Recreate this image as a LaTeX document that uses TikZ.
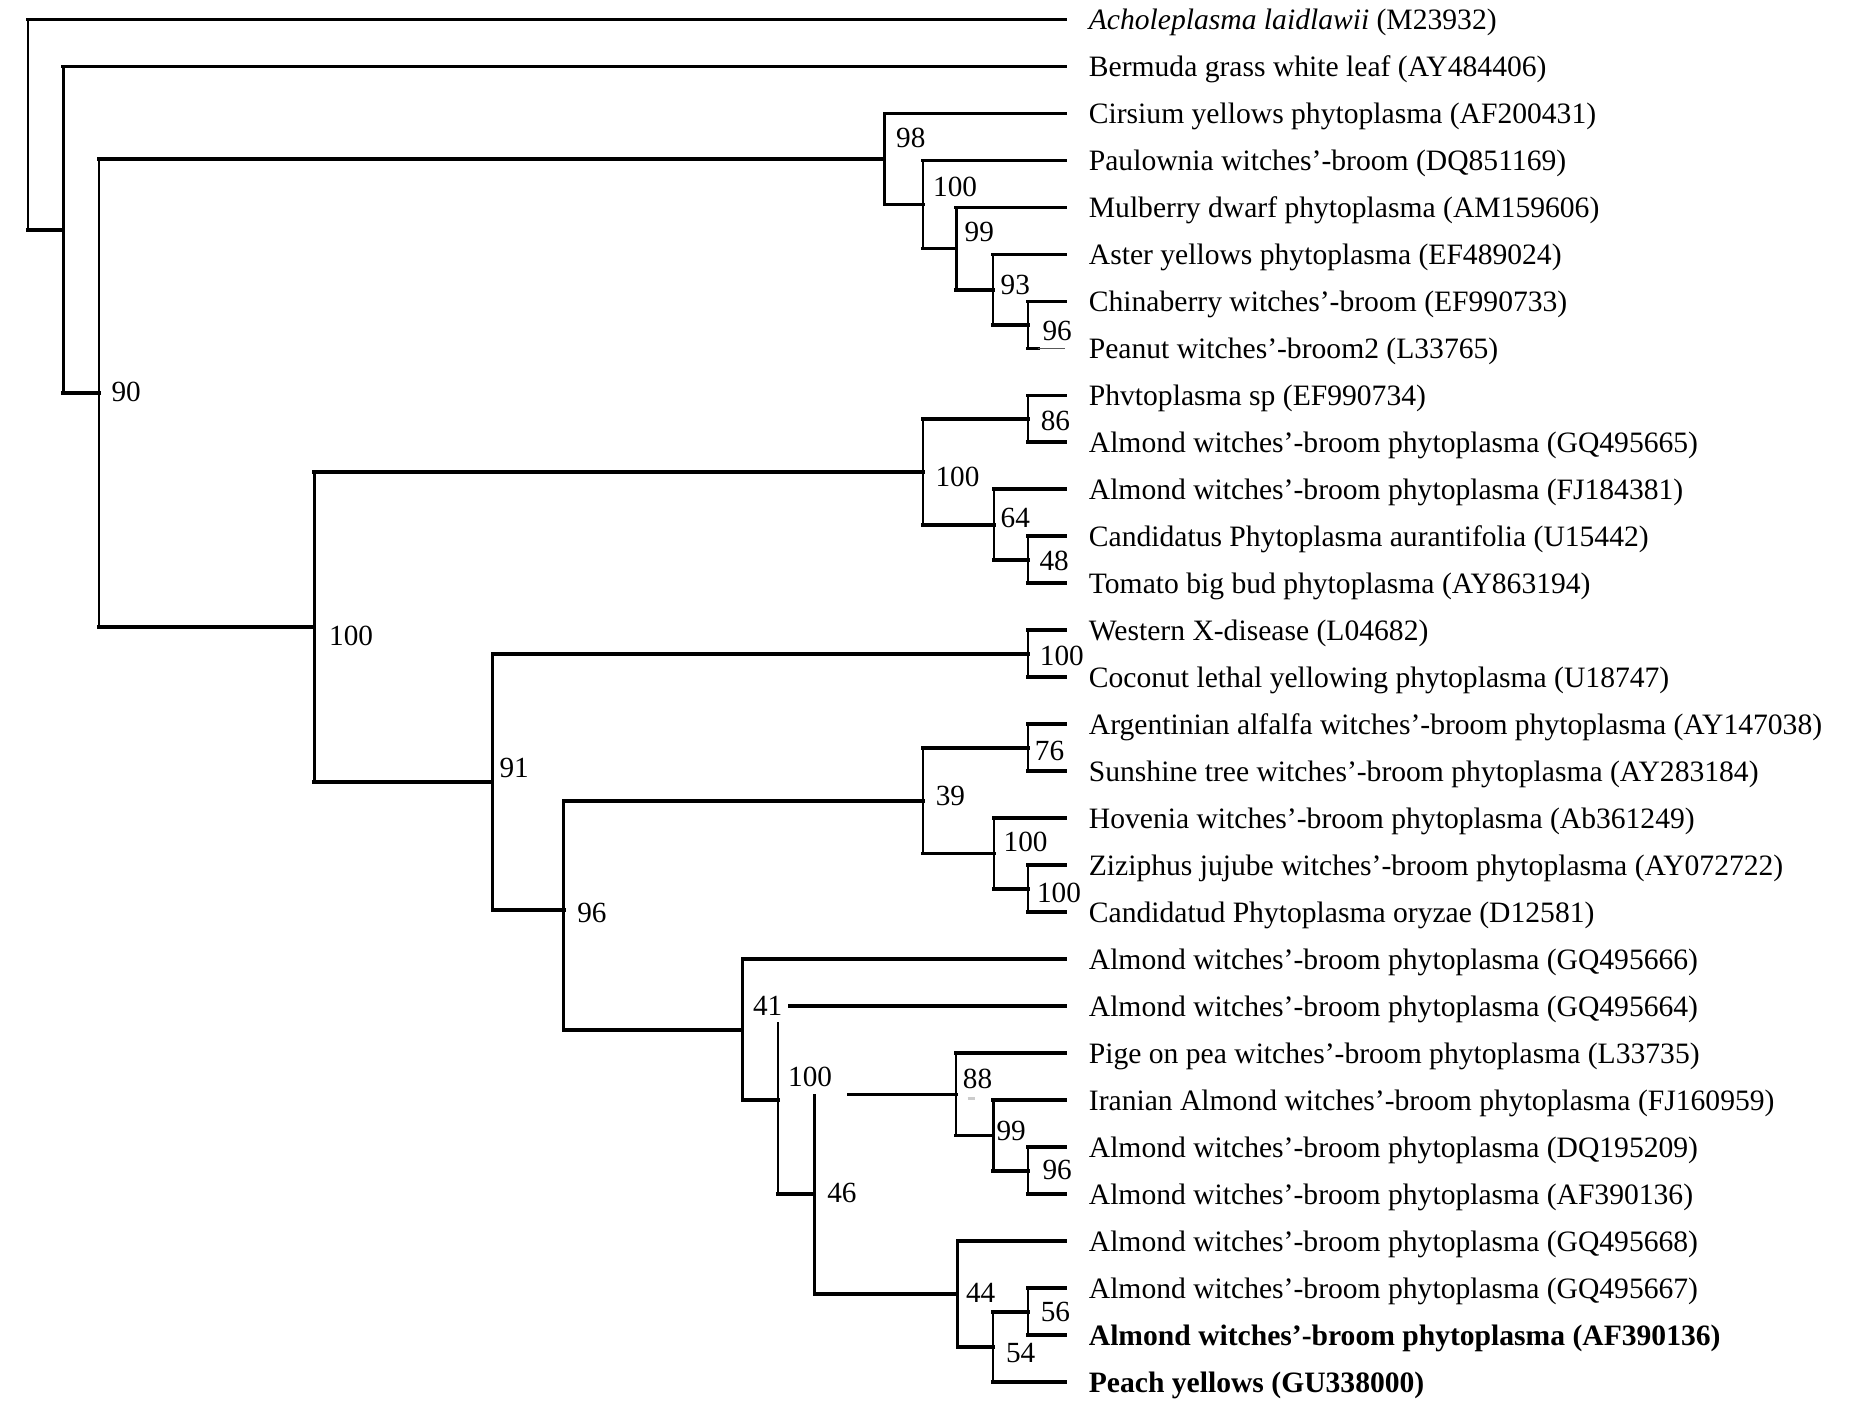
\documentclass[tikz,border=0pt]{standalone}
\usepackage{fontspec}
\setmainfont{Liberation Serif}
\newcommand{\clade}[2]{\draw[vline] (#1) -- (#1 |- #2); \draw[hline] (#1 |- #2) -- (#2);}

\begin{document}
\begin{tikzpicture}[x = 0.5pt, y = -0.5pt,
        hline/.style = {line width = 1.6pt, line cap = rect},
        vline/.style = {line width = 1pt},
        taxon/.style = {anchor = west, inner xsep = 9.75pt, inner ysep = 0pt, text height = 8.3pt, text depth = 0pt, font = \fontsize{12.55}{14}\selectfont},
        boot/.style = {inner sep = 0pt, text height = 8.4pt, text depth = 0pt, font = \fontsize{12.4}{14}\selectfont}]
            \useasboundingbox (0,0) rectangle (1568,1193.4);

            \node[taxon] (l0) at (903.5,16.5) {\textit{Acholeplasma laidlawii} (M23932)};
            \node[taxon] (l1) at (903.5,56.35) {Bermuda grass white leaf (AY484406)};
            \node[taxon] (l2) at (903.5,96.2) {Cirsium yellows phytoplasma (AF200431)};
            \node[taxon] (l3) at (903.5,136.05) {Paulownia witches’-broom (DQ851169)};
            \node[taxon] (l4) at (903.5,175.9) {Mulberry dwarf phytoplasma (AM159606)};
            \node[taxon] (l5) at (903.5,215.75) {Aster yellows phytoplasma (EF489024)};
            \node[taxon] (l6) at (903.5,255.6) {Chinaberry witches’-broom (EF990733)};
            \node[taxon] (l7) at (903.5,295.45) {Peanut witches’-broom2 (L33765)};
            \node[taxon] (l8) at (903.5,335.3) {Phvtoplasma sp (EF990734)};
            \node[taxon] (l9) at (903.5,375.15) {Almond witches’-broom phytoplasma (GQ495665)};
            \node[taxon] (l10) at (903.5,415) {Almond witches’-broom phytoplasma (FJ184381)};
            \node[taxon] (l11) at (903.5,454.85) {Candidatus Phytoplasma aurantifolia (U15442)};
            \node[taxon] (l12) at (903.5,494.7) {Tomato big bud phytoplasma (AY863194)};
            \node[taxon] (l13) at (903.5,534.55) {Western X-disease (L04682)};
            \node[taxon] (l14) at (903.5,574.4) {Coconut lethal yellowing phytoplasma (U18747)};
            \node[taxon] (l15) at (903.5,614.25) {Argentinian alfalfa witches’-broom phytoplasma (AY147038)};
            \node[taxon] (l16) at (903.5,654.1) {Sunshine tree witches’-broom phytoplasma (AY283184)};
            \node[taxon] (l17) at (903.5,693.95) {Hovenia witches’-broom phytoplasma (Ab361249)};
            \node[taxon] (l18) at (903.5,733.8) {Ziziphus jujube witches’-broom phytoplasma (AY072722)};
            \node[taxon] (l19) at (903.5,773.65) {Candidatud Phytoplasma oryzae (D12581)};
            \node[taxon] (l20) at (903.5,813.5) {Almond witches’-broom phytoplasma (GQ495666)};
            \node[taxon] (l21) at (903.5,853.35) {Almond witches’-broom phytoplasma (GQ495664)};
            \node[taxon] (l22) at (903.5,893.2) {Pige on pea witches’-broom phytoplasma (L33735)};
            \node[taxon] (l23) at (903.5,933.05) {Iranian Almond witches’-broom phytoplasma (FJ160959)};
            \node[taxon] (l24) at (903.5,972.9) {Almond witches’-broom phytoplasma (DQ195209)};
            \node[taxon] (l25) at (903.5,1012.75) {Almond witches’-broom phytoplasma (AF390136)};
            \node[taxon] (l26) at (903.5,1052.6) {Almond witches’-broom phytoplasma (GQ495668)};
            \node[taxon] (l27) at (903.5,1092.45) {Almond witches’-broom phytoplasma (GQ495667)};
            \node[taxon] (l28) at (903.5,1132.3) {\textbf{Almond witches’-broom phytoplasma (AF390136)}};
            \node[taxon] (l29) at (903.5,1172.15) {\textbf{Peach yellows (GU338000)}};

            \coordinate (root) at (23.5,105.6);
            \coordinate (A) at (53.7,194.8);
            \coordinate (B) at (83.9,333.2);
            \coordinate (D) at (750,134.8);
            \coordinate (E) at (782.5,173.4);
            \coordinate (F) at (811,210.8);
            \coordinate (G) at (842,245.6);
            \coordinate (H) at (872,275.5);
            \coordinate (C) at (266.6,531.6);
            \coordinate (I) at (782.5,400.05);
            \coordinate (K) at (872,355.2);
            \coordinate (L) at (843,444.9);
            \coordinate (M) at (872,474.8);
            \coordinate (J) at (417.6,663.3);
            \coordinate (N) at (872,554.5);
            \coordinate (O) at (478,772);
            \coordinate (P) at (782.5,679);
            \coordinate (R) at (872,634.2);
            \coordinate (S) at (843,723.8);
            \coordinate (T) at (872,753.7);
            \coordinate (Q) at (629.7,873.3);
            \coordinate (U) at (659.6,933.1);
            \coordinate (V) at (690.8,1012.8);
            \coordinate (W) at (810.5,928.1);
            \coordinate (Y) at (842.4,962.9);
            \coordinate (Z) at (872,992.8);
            \coordinate (X) at (812,1097.4);
            \coordinate (AA) at (842,1142.3);
            \coordinate (BB) at (872,1112.4);
            \coordinate (l7stub) at (880,295.45);
            \coordinate (Ucut) at (659.6,867);
            \coordinate (l21cut) at (669.7,853.35);
            \coordinate (Wcut) at (720,928.1);

            \clade{root}{l0} \clade{root}{A}
            \clade{A}{l1} \clade{A}{B}
            \clade{B}{D} \clade{B}{C}
            \clade{D}{l2} \clade{D}{E}
            \clade{E}{l3} \clade{E}{F}
            \clade{F}{l4} \clade{F}{G}
            \clade{G}{l5} \clade{G}{H}
            \clade{H}{l6}
            \draw[vline] (H) -- (H |- l7);
            \draw[hline] (H |- l7) -- (l7stub);
            \draw[line width = 0.6pt, black!65] (l7stub) -- (l7);
            \clade{C}{I} \clade{C}{J}
            \clade{I}{K} \clade{I}{L}
            \clade{K}{l8} \clade{K}{l9}
            \clade{L}{l10} \clade{L}{M}
            \clade{M}{l11} \clade{M}{l12}
            \clade{J}{N} \clade{J}{O}
            \clade{N}{l13} \clade{N}{l14}
            \clade{O}{P} \clade{O}{Q}
            \clade{P}{R} \clade{P}{S}
            \clade{R}{l15} \clade{R}{l16}
            \clade{S}{l17} \clade{S}{T}
            \clade{T}{l18} \clade{T}{l19}
            \clade{Q}{l20} \clade{Q}{U}
            \draw[vline] (U) -- (Ucut);
            \draw[hline] (l21cut) -- (l21);
            \clade{U}{V}
            \draw[vline] (V) -- (V |- W);
            \draw[hline] (Wcut) -- (W);
            \clade{V}{X}
            \clade{W}{l22} \clade{W}{Y}
            \clade{Y}{l23} \clade{Y}{Z}
            \clade{Z}{l24} \clade{Z}{l25}
            \clade{X}{l26} \clade{X}{AA}
            \clade{AA}{BB} \clade{AA}{l29}
            \clade{BB}{l27} \clade{BB}{l28}
            \draw[gray!40, line width = 1pt] (820.5,931.5) -- (826.5,931.5);

            \node[boot] (sB) at (107,332) {90};
            \node[boot] (sD) at (772.4,117) {98};
            \node[boot] (sE) at (810,158) {100};
            \node[boot] (sF) at (830.5,196.5) {99};
            \node[boot] (sG) at (861,241.7) {93};
            \node[boot] (sH) at (896.5,280) {96};
            \node[boot] (sC) at (297.8,539) {100};
            \node[boot] (sI) at (812,404) {100};
            \node[boot] (sK) at (895,356.7) {86};
            \node[boot] (sL) at (861,439) {64};
            \node[boot] (sM) at (894,475.8) {48};
            \node[boot] (sJ) at (436,650.7) {91};
            \node[boot] (sN) at (900.5,556) {100};
            \node[boot] (sO) at (502,773.5) {96};
            \node[boot] (sP) at (806,674.7) {39};
            \node[boot] (sR) at (890,636.6) {76};
            \node[boot] (sS) at (869.7,714) {100};
            \node[boot] (sT) at (898,756.6) {100};
            \node[boot] (sQ) at (651,853) {41};
            \node[boot] (sV) at (687,913) {100};
            \node[boot] (sU) at (714,1011.4) {46};
            \node[boot] (sW) at (829,915) {88};
            \node[boot] (sY) at (857.5,958.6) {99};
            \node[boot] (sZ) at (896.5,991.8) {96};
            \node[boot] (sX) at (831.6,1095.8) {44};
            \node[boot] (sBB) at (895,1112) {56};
            \node[boot] (sAA) at (865.6,1147) {54};
\end{tikzpicture}
\end{document}
